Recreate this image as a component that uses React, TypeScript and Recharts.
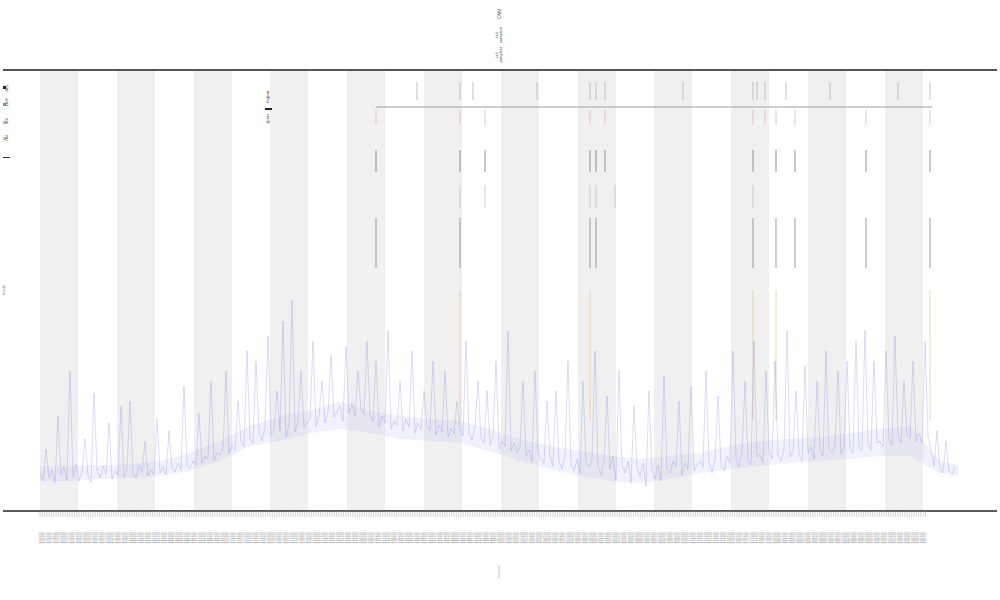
import {
  ComposedChart,
  Line,
  Area,
  XAxis,
  YAxis,
  ReferenceArea,
  ReferenceLine,
} from "recharts";

// coverage signal, one value every 3 position units starting at 37
const COVERAGE = [
  38, 30, 62, 33, 41, 28, 95, 36, 44, 31,
  140, 34, 47, 30, 39, 72, 35, 29, 118, 40,
  33, 45, 37, 88, 32, 40, 36, 105, 34, 42,
  110, 38, 33, 46, 39, 70, 35, 41, 37, 92,
  38, 44, 36, 80, 42, 39, 48, 41, 125, 45,
  43, 50, 46, 98, 48, 55, 52, 130, 50, 58,
  56, 62, 140, 58, 66, 61, 110, 70, 64, 160,
  72, 68, 150, 78, 70, 84, 175, 76, 82, 120,
  80, 190, 74, 86, 211, 79, 90, 140, 83, 88,
  92, 170, 85, 96, 130, 88, 99, 155, 94, 100,
  105, 90, 165, 98, 108, 95, 140, 102, 97, 170,
  96, 90, 150, 84, 95, 88, 180, 82, 90, 86,
  130, 80, 92, 84, 160, 78, 88, 82, 120, 85,
  80, 150, 76, 86, 79, 140, 74, 83, 77, 110,
  82, 75, 170, 78, 71, 84, 130, 73, 68, 120,
  66, 74, 150, 62, 70, 65, 180, 60, 68, 58,
  64, 130, 55, 61, 50, 140, 58, 52, 48, 110,
  54, 45, 120, 50, 42, 56, 150, 46, 40, 52,
  38, 130, 48, 44, 52, 160, 45, 36, 50, 115,
  42, 55, 30, 140, 46, 38, 50, 28, 105, 44,
  35, 48, 25, 120, 40, 32, 46, 30, 135, 42,
  38, 50, 44, 110, 36, 48, 42, 125, 40, 46,
  50, 44, 140, 48, 38, 52, 115, 45, 40, 55,
  48, 160, 52, 44, 58, 130, 50, 46, 170, 54,
  56, 48, 140, 60, 52, 150, 55, 50, 62, 180,
  54, 60, 120, 56, 50, 145, 58, 64, 52, 130,
  60, 55, 160, 62, 58, 66, 140, 57, 63, 150,
  62, 58, 170, 64, 60, 181, 66, 61, 150, 68,
  70, 64, 160, 72, 66, 175, 74, 68, 130, 76,
  72, 150, 70, 78, 68, 170, 74, 60, 45, 80,
  42, 38, 70, 40, 36, 44,
];

// dense spread of the signal, every 30 position units from 37
const SPREAD_X = [37, 67, 97, 127, 157, 187, 217, 247, 277, 307, 337, 367, 397, 427, 457, 487,
  517, 547, 577, 607, 637, 667, 697, 727, 757, 787, 817, 847, 877, 907, 937, 955];
const SPREAD_LOW = [30, 30, 32, 33, 35, 40, 50, 65, 70, 78, 82, 78, 72, 70, 68, 60,
  50, 42, 35, 30, 28, 32, 38, 42, 45, 48, 50, 52, 55, 55, 38, 36];
const SPREAD_HIGH = [45, 45, 46, 47, 50, 58, 70, 85, 95, 100, 110, 100, 95, 92, 90, 82,
  72, 65, 60, 55, 52, 55, 58, 65, 70, 72, 74, 78, 82, 85, 50, 46];

// alternating shaded blocks (start positions)
const BANDS = [37, 114, 191, 267, 344, 421, 498, 575, 651, 728, 805, 882];
const BAND_WIDTH = 38;

// event tracks: value range of each row
const TRACKS: Record<string, number[]> = {
  call: [411, 429],
  snv: [386, 401],
  indel: [339, 361],
  del: [303, 326],
  dup: [243, 293],
  cnv: [91, 221],
};

// event positions per track
const EVENTS: Record<string, number[]> = {
  call: [414, 457, 470, 534, 587, 593, 602, 680, 750, 754, 762, 783, 827, 895, 927],
  snv: [373, 457, 482, 587, 602, 750, 762, 773, 792, 863, 927],
  indel: [373, 457, 482, 587, 593, 602, 750, 773, 792, 863, 927],
  del: [457, 482, 587, 593, 612, 750],
  dup: [373, 457, 587, 593, 750, 773, 792, 863, 927],
  cnv: [457, 587, 750, 773, 927],
};

const SPAN = [373, 929];
const SPAN_LEVEL = 404;

const Y_TICKS = [21, 111, 206, 321];
const Y_LABELS = ["0", "10", "20", "30"];

const X_TICKS = Array.from({ length: 386 }, (_, i) => 37 + i * 2.3);
const X_LABELS = X_TICKS.map((_, i) => String(100000 + i * 250));

const TRACK_COLORS: Record<string, string> = {
  call: "#a0a0a0",
  snv: "#e8a0a8",
  indel: "#555555",
  del: "#b0b0b0",
  dup: "#666666",
  cnv: "#f0b888",
};

const data = COVERAGE.map((v, i) => ({ x: 37 + i * 3, v }));
const spread = SPREAD_X.map((x, i) => ({ x, band: [SPREAD_LOW[i], SPREAD_HIGH[i]] }));

function XTick(props: any) {
  const { x, y, index } = props;
  const ty = y + 13;
  return (
    <text
      x={x}
      y={ty}
      transform={`rotate(-90 ${x} ${ty})`}
      textAnchor="end"
      dominantBaseline="middle"
      fontSize={3}
      fill="#999"
      fontFamily="DejaVu Sans"
    >
      {X_LABELS[index]}
    </text>
  );
}

function VText({ x, y, text, size, color }: any) {
  return (
    <div
      style={{
        position: "absolute",
        left: x,
        top: y,
        transform: "translate(-50%, -50%) rotate(-90deg)",
        fontSize: size,
        color: color || "#444",
        fontFamily: "DejaVu Sans",
        whiteSpace: "pre",
        lineHeight: 1.1,
        textAlign: "center",
      }}
    >
      {text}
    </div>
  );
}

function Swatch({ x, y, w, h, color }: any) {
  return (
    <div
      style={{ position: "absolute", left: x, top: y, width: w, height: h, background: color }}
    />
  );
}

export default function App() {
  return (
    <div style={{ position: "absolute", left: 0, top: 0, width: 1000, height: 600, background: "#fff" }}>
      <ComposedChart
        width={1000}
        height={600}
        data={data}
        margin={{ top: 70, right: 3, bottom: 0, left: 3 }}
      >
        {BANDS.map((b) => (
          <ReferenceArea
            key={b}
            x1={b}
            x2={b + BAND_WIDTH}
            fill="#f0f0f0"
            fillOpacity={1}
            stroke="none"
          />
        ))}
        <XAxis
          type="number"
          dataKey="x"
          domain={[0, 994]}
          ticks={X_TICKS}
          interval={0}
          height={89}
          tick={<XTick />}
          tickSize={6}
          tickLine={{ stroke: "#aaa", strokeWidth: 0.5 }}
          axisLine={{ stroke: "#222", strokeWidth: 1.5 }}
          allowDataOverflow
        />
        <YAxis
          type="number"
          domain={[0, 441]}
          ticks={Y_TICKS}
          width={0}
          mirror
          axisLine={false}
          tickLine={false}
          tick={{ fontSize: 3, fill: "#aaa" }}
          tickFormatter={(v: number) => Y_LABELS[Y_TICKS.indexOf(v)] ?? ""}
          allowDataOverflow
        />
        <ReferenceLine y={441} stroke="#555" strokeWidth={2} />
        <ReferenceLine
          segment={[
            { x: SPAN[0], y: SPAN_LEVEL },
            { x: SPAN[1], y: SPAN_LEVEL },
          ]}
          stroke="#a0a0a0"
          strokeWidth={1}
        />
        {Object.keys(EVENTS).flatMap((track) =>
          EVENTS[track].map((pos) => (
            <ReferenceLine
              key={track + pos}
              segment={[
                { x: pos, y: TRACKS[track][0] },
                { x: pos, y: TRACKS[track][1] },
              ]}
              stroke={TRACK_COLORS[track]}
              strokeWidth={0.8}
              strokeOpacity={0.8}
            />
          ))
        )}
        <Area
          data={spread}
          type="linear"
          dataKey="band"
          stroke="none"
          fill="#c0c0f2"
          fillOpacity={0.22}
          isAnimationActive={false}
        />
        <Line
          type="linear"
          dataKey="v"
          stroke="#6464e0"
          strokeWidth={0.5}
          strokeOpacity={0.45}
          dot={false}
          isAnimationActive={false}
        />
      </ComposedChart>

      {/* title */}
      <VText x={500} y={14} text="CNV" size={5} />
      <VText x={500} y={35} text={"(all\nsamples)"} size={3.5} />
      <VText x={500} y={55} text={"(all\nsamples)"} size={3.5} />

      {/* track legend */}
      <Swatch x={3} y={86} w={3} h={3} color="#222" />
      <VText x={8} y={88} text="DEL" size={3.5} />
      <Swatch x={3} y={103} w={3} h={3} color="#8888dd" />
      <VText x={8} y={102} text="DUP" size={3.5} />
      <Swatch x={3} y={121} w={3} h={3} color="#e8a0c0" />
      <VText x={8} y={121} text="INV" size={3.5} />
      <Swatch x={3} y={137} w={3} h={3} color="#c8d860" />
      <VText x={8} y={138} text="TRA" size={3.5} />
      <Swatch x={3} y={157} w={7} h={1} color="#333" />

      {/* span legend */}
      <VText x={268} y={97} text="region" size={4} />
      <Swatch x={265} y={108} w={7} h={1.5} color="#222" />
      <VText x={268} y={119} text="span" size={4} />

      {/* axis titles */}
      <VText x={5} y={290} text="Depth" size={3.5} color="#999" />
      <VText x={500} y={572} text="Position" size={3} color="#999" />
    </div>
  );
}
